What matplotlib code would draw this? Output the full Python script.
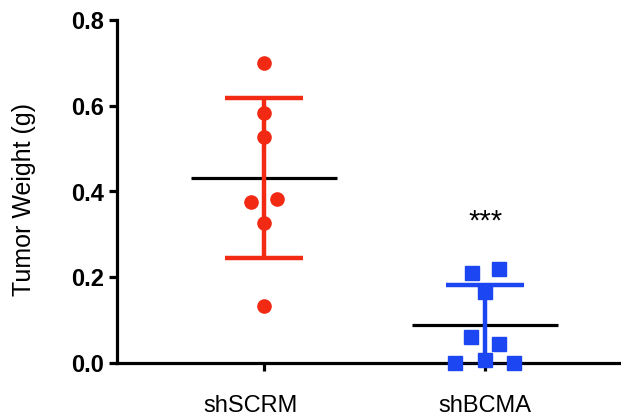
import numpy as np
import matplotlib
matplotlib.use("Agg")
import matplotlib.pyplot as plt
import matplotlib.transforms as mtransforms

# ---- data ----
groups = ["shSCRM", "shBCMA"]
shSCRM = [0.700, 0.582, 0.528, 0.375, 0.382, 0.326, 0.134]
shBCMA = [0.209, 0.219, 0.166, 0.061, 0.044, 0.000, 0.007, 0.000]
yticks = [0.0, 0.2, 0.4, 0.6, 0.8]
ytick_labels = ["0.0", "0.2", "0.4", "0.6", "0.8"]
ylabel = "Tumor Weight (g)"
signif = "***"

# layout (jitter offsets of the scatter points, in group units)
jit_scrm = [0.0, 0.0, 0.0, -0.061, 0.061, 0.0, 0.0]
jit_bcma = [-0.06, 0.063, 0.0, -0.063, 0.063, -0.136, 0.0, 0.133]

red = "#F22A14"
blue = "#1C46F2"

plt.rcParams["font.family"] = ["Liberation Sans", "DejaVu Sans"]

fig = plt.figure(figsize=(6.21, 4.19), dpi=100)
W, H = 621, 419
ax = fig.add_axes([117 / W, 1 - 363 / H, (621 - 117) / W, (363 - 20) / H])

ax.set_xlim(-0.665, 1.615)
ax.set_ylim(0, 0.8)

series = [(shSCRM, jit_scrm, red, "o"), (shBCMA, jit_bcma, blue, "s")]
for i, (vals, jit, col, mk) in enumerate(series):
    vals = np.array(vals)
    m = vals.mean()
    sd = vals.std(ddof=1)
    # mean line
    ax.plot([i - 0.33, i + 0.33], [m, m], color="black", lw=2.3, zorder=2,
            solid_capstyle="butt")
    # SD bar
    ax.errorbar([i], [m], yerr=[sd], fmt="none", ecolor=col, elinewidth=3.2,
                capsize=28, capthick=3.2, zorder=3)
    # points
    ax.plot(i + np.array(jit), vals, linestyle="none", marker=mk, ms=9.5,
            color=col, mec=col, zorder=4, clip_on=False)

ax.text(1, 0.362, signif, ha="center", va="top", fontsize=21)

for s in ["top", "right"]:
    ax.spines[s].set_visible(False)
for s in ["left", "bottom"]:
    ax.spines[s].set_linewidth(2.3)
    ax.spines[s].set_zorder(1)

ax.set_yticks(yticks)
ax.set_yticklabels(ytick_labels, fontsize=17, fontweight="bold")
ax.set_xticks([0, 1])
ax.set_xticklabels(groups, fontsize=17)
ax.tick_params(axis="y", length=6, width=2.3, pad=3)
ax.tick_params(axis="x", length=6, width=2.3, pad=17)

# first category label sits slightly left of its tick in the reference
lbl0 = ax.get_xticklabels()[0]
lbl0.set_transform(lbl0.get_transform() +
                   mtransforms.ScaledTranslation(-0.13, 0, fig.dpi_scale_trans))

fig.text(24 / W, 1 - 199 / H, ylabel, rotation=90, ha="center", va="center",
         fontsize=18)

fig.savefig("out.png", dpi=100)
